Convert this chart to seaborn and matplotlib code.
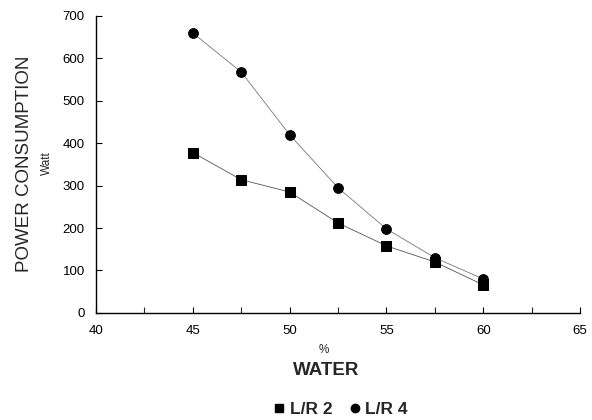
import numpy as np
import pandas as pd
import matplotlib
matplotlib.use("Agg")
import matplotlib.pyplot as plt
import seaborn as sns

# data
water = [45, 47.5, 50, 52.5, 55, 57.5, 60]
lr2 = [378, 314, 285, 212, 158, 120, 66]
lr4 = [660, 568, 420, 295, 198, 130, 80]
series_names = ["L/R 2", "L/R 4"]
x_ticks = [40, 45, 50, 55, 60, 65]
y_ticks = [0, 100, 200, 300, 400, 500, 600, 700]

df = pd.DataFrame({
    "water": water * 2,
    "power": lr2 + lr4,
    "series": [series_names[0]] * len(water) + [series_names[1]] * len(water),
})

sns.set_style("ticks")
plt.rcParams["font.family"] = ["Liberation Sans", "DejaVu Sans"]

fig = plt.figure(figsize=(5.92, 4.2), dpi=100)
ax = fig.add_axes([0.162, 0.255, 0.818, 0.707])

sns.lineplot(data=df, x="water", y="power", style="series", hue="series",
             markers={"L/R 2": "s", "L/R 4": "o"}, dashes=False,
             palette={"L/R 2": "#555555", "L/R 4": "#777777"},
             linewidth=0.6, markersize=7, markerfacecolor="black",
             markeredgecolor="black", ax=ax, legend=False)

ax.set_xlim(40, 65)
ax.set_ylim(0, 700)
ax.set_xticks(x_ticks)
ax.set_xticks(np.arange(40, 65.1, 2.5), minor=True)
ax.set_yticks(y_ticks)
ax.tick_params(axis="both", direction="in", labelsize=9.5, length=4, width=0.8, colors="black")
ax.tick_params(axis="x", which="minor", direction="in", length=4, width=0.8)
ax.tick_params(axis="x", pad=9)
ax.tick_params(axis="y", pad=8)
for s in ["top", "right"]:
    ax.spines[s].set_visible(False)
for s in ["left", "bottom"]:
    ax.spines[s].set_linewidth(1.0)
    ax.spines[s].set_color("black")

ax.set_xlabel("")
ax.set_ylabel("")
fig.text(0.547, 0.167, "%", ha="center", va="center", fontsize=8.5)
fig.text(0.551, 0.119, "WATER", ha="center", va="center", fontsize=13.5, fontweight="bold")
fig.text(0.042, 0.61, "POWER CONSUMPTION", rotation=90, ha="center", va="center", fontsize=13.5)
fig.text(0.08, 0.612, "Watt", rotation=90, ha="center", va="center", fontsize=8.5)

handles = [
    plt.Line2D([], [], marker="s", color="black", linestyle="none", markersize=6),
    plt.Line2D([], [], marker="o", color="black", linestyle="none", markersize=6),
]
leg = fig.legend(handles, series_names, loc="center", bbox_to_anchor=(0.573, 0.025),
                 ncol=2, frameon=False, fontsize=12.5, handletextpad=0.1,
                 columnspacing=0.8, handlelength=1.0)
for t in leg.get_texts():
    t.set_fontweight("bold")

fig.savefig("out.png", dpi=100)
